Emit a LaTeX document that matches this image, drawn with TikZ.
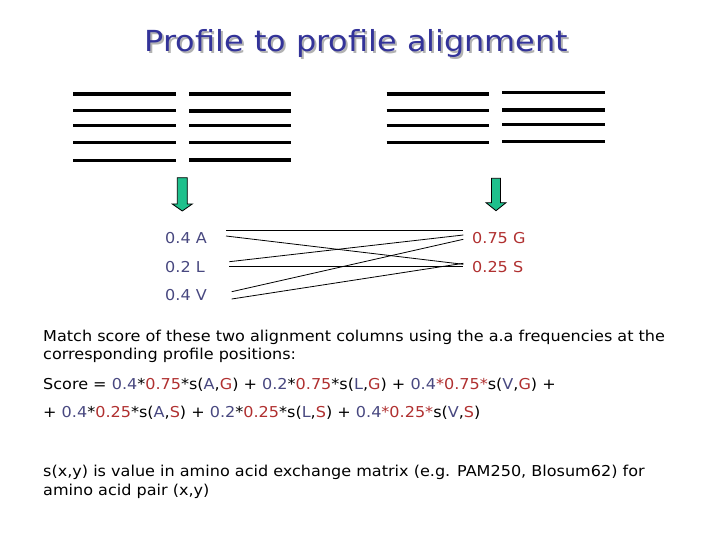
\documentclass[tikz,border=0pt]{standalone}
\usepackage{fontspec}
\setmainfont{DejaVu Sans}[FakeStretch=1.07]
\newfontfamily\titlefont{DejaVu Sans}[FakeStretch=1.1]
\definecolor{titleblue}{RGB}{51,51,153}
\definecolor{lblue}{RGB}{72,72,128}
\definecolor{lred}{RGB}{176,48,48}
\definecolor{arrowgreen}{RGB}{30,192,140}
\newcommand{\B}[1]{\textcolor{lblue}{#1}}
\newcommand{\R}[1]{\textcolor{lred}{#1}}
\newcommand{\ttltext}{Profile to profile alignment}
\begin{document}
\begin{tikzpicture}[x=1pt,y=-1pt,
  bar/.style={line width=3.5pt},
  fatarrow/.style={fill=arrowgreen,draw=black,line width=0.8pt,line join=miter},
  body/.style={anchor=west,inner sep=0pt,font=\fontsize{15}{17}\selectfont},
  lbl/.style={anchor=west,inner sep=0pt,font=\fontsize{15}{17}\selectfont},
  conn/.style={line width=0.8pt}]
\useasboundingbox (0,0) rectangle (720,540);
% title with shadow
\node[font=\titlefont\fontsize{29}{33}\selectfont,inner sep=0pt] (title) at (356.5,45)
  {\rlap{\hspace{2pt}\raisebox{-2pt}{\textcolor{black!30}{\ttltext}}}\textcolor{titleblue}{\ttltext}};
% left profile bars
\foreach \y in {94,110.7,125.7,142.7,160.7} \draw[bar] (73,\y) -- (176,\y);
\foreach \y in {94,111,125.7,142.7,160} \draw[bar] (189,\y) -- (291,\y);
% right profile bars
\foreach \y in {94,110.7,125.7,142.7} \draw[bar] (386.7,\y) -- (489.3,\y);
\foreach \y in {92.7,110,124.7,141.7} \draw[bar] (502.3,\y) -- (605,\y);
% arrows
\draw[fatarrow] (177.3,177.7) -- (187.3,177.7) -- (187.3,204) -- (192.3,204) -- (182.3,211) -- (172.3,204) -- (177.3,204) -- cycle;
\draw[fatarrow] (491.5,178.3) -- (500.5,178.3) -- (500.5,202.7) -- (506,202.7) -- (496,210.7) -- (486,202.7) -- (491.5,202.7) -- cycle;
% labels
\node[lbl,text=lblue] (a) at (165,238.3) {0.4 A};
\node[lbl,text=lblue] (l) at (165,266.7) {0.2 L};
\node[lbl,text=lblue] (v) at (165,295) {0.4 V};
\node[lbl,text=lred] (g) at (472,238.3) {0.75 G};
\node[lbl,text=lred] (s) at (472,266.7) {0.25 S};
% connector end points
\coordinate (a1) at (226,230.7);
\coordinate (a2) at (226,236);
\coordinate (l1) at (229.3,261.7);
\coordinate (l2) at (229.3,266);
\coordinate (v1) at (231.7,291.7);
\coordinate (v2) at (231.7,299);
\coordinate (g1) at (463.3,230.7);
\coordinate (g2) at (463.3,235);
\coordinate (g3) at (463.3,239.3);
\coordinate (s1) at (463.3,264.3);
\coordinate (s2) at (463.3,266);
\coordinate (s3) at (463.3,263.3);
\draw[conn] (a1) -- (g1);
\draw[conn] (a2) -- (s1);
\draw[conn] (l1) -- (g2);
\draw[conn] (l2) -- (s2);
\draw[conn] (v1) -- (g3);
\draw[conn] (v2) -- (s3);
% body text
\node[body] (t1) at (43,337) {Match score of these two alignment columns using the a.a frequencies at the};
\node[body] (t2) at (43,355.5) {corresponding profile positions:};
\node[body] (t3) at (43,384.5) {Score = \B{0.4}*\R{0.75}*s(\B{A},\R{G}) + \B{0.2}*\R{0.75}*s(\B{L},\R{G}) + \B{0.4}\R{*0.75*}s(\B{V},\R{G}) +};
\node[body] (t4) at (43,413) {+ \B{0.4}*\R{0.25}*s(\B{A},\R{S}) + \B{0.2}*\R{0.25}*s(\B{L},\R{S}) + \B{0.4}\R{*0.25*}s(\B{V},\R{S})};
\node[body] (t5) at (43,472.5) {s(x,y) is value in amino acid exchange matrix (e.g. PAM250, Blosum62) for};
\node[body] (t6) at (43,491.5) {amino acid pair (x,y)};
\end{tikzpicture}
\end{document}
